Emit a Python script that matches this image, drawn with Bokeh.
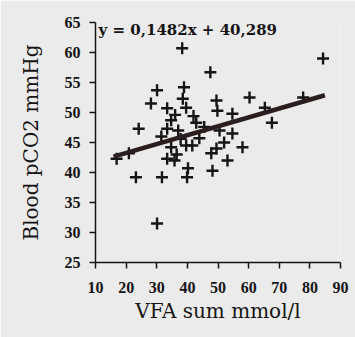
from bokeh.plotting import figure
from bokeh.models import Label, Range1d, FixedTicker, ColumnDataSource
from bokeh.embed import file_html
from bokeh.resources import INLINE

# VFA sum (mmol/l) and blood pCO2 (mmHg) per animal
vfa_sum = [38.3, 84.3, 47.5, 30.1, 38.9, 28.1, 33.4, 39.6, 34.7, 24.1,
           33.4, 34.7, 39.6, 33.4, 40.2, 39.9, 23.2, 31.7, 20.9, 16.9,
           30.1, 49.5, 60.3, 49.8, 54.7, 42.9, 50.5, 54.7, 43.9, 41.6,
           49.5, 58.0, 47.8, 53.1, 48.2, 65.3, 77.8, 67.6, 36.5, 37.0,
           36.0, 31.5, 37.8, 45.5, 35.8, 42.0, 52.0, 38.5]
blood_pco2 = [60.7, 59.0, 56.7, 53.7, 54.2, 51.5, 50.7, 50.8, 48.7, 47.3,
              47.3, 44.2, 44.5, 42.3, 40.7, 39.2, 39.2, 39.2, 43.2, 42.3,
              31.5, 52.0, 52.5, 50.3, 49.8, 48.3, 47.0, 46.5, 45.7, 44.5,
              44.0, 44.2, 43.2, 42.0, 40.3, 50.8, 52.5, 48.3, 43.0, 47.0,
              49.6, 46.0, 45.6, 47.6, 42.0, 49.4, 45.0, 52.3]

# linear fit reported with the data
slope = 0.1482
intercept = 40.289
equation = "y = 0,1482x + 40,289"

x_ticks = [10, 20, 30, 40, 50, 60, 70, 80, 90]
y_ticks = [25, 30, 35, 40, 45, 50, 55, 60, 65]

paper = "#ebebeb"
ink = "#161414"

p = figure(width=355, height=337, output_backend="svg", toolbar_location=None,
           x_range=Range1d(10, 90), y_range=Range1d(25, 65),
           min_border_left=95, min_border_right=15,
           min_border_top=22, min_border_bottom=75)
p.background_fill_color = paper
p.border_fill_color = paper
p.outline_line_color = None
p.grid.visible = False

for ax in (p.xaxis[0], p.yaxis[0]):
    ax.axis_line_color = ink
    ax.axis_line_width = 1.5
    ax.major_tick_line_color = ink
    ax.major_tick_line_width = 1.5
    ax.major_tick_in = 0
    ax.major_tick_out = 6
    ax.minor_tick_line_color = None
    ax.major_label_text_font = "Liberation Serif"
    ax.major_label_text_font_style = "bold"
    ax.major_label_text_font_size = "16px"
    ax.major_label_text_color = ink
    ax.axis_label_text_font = "DejaVu Serif"
    ax.axis_label_text_font_style = "normal"
    ax.axis_label_text_font_size = "20px"
    ax.axis_label_text_color = ink

p.xaxis.ticker = FixedTicker(ticks=x_ticks)
p.yaxis.ticker = FixedTicker(ticks=y_ticks)
p.xaxis.axis_label = "VFA sum mmol/l"
p.yaxis.axis_label = "Blood pCO2 mmHg"
p.xaxis.major_label_standoff = 13
p.yaxis.major_label_standoff = 9
p.xaxis.axis_label_standoff = 3
p.yaxis.axis_label_standoff = 19

src = ColumnDataSource(dict(x=vfa_sum, y=blood_pco2))
p.scatter("x", "y", source=src, marker="cross", size=12,
          line_color=ink, line_width=2.4)

# regression line across the observed VFA range
x0 = min(vfa_sum) - 1.0
x1 = max(vfa_sum) + 0.6
p.line([x0, x1], [slope * x0 + intercept, slope * x1 + intercept],
       line_color="#2a1e1e", line_width=4.5)

p.add_layout(Label(x=11.0, y=63.8, text=equation, text_baseline="middle",
                   text_font="DejaVu Serif", text_font_style="bold",
                   text_font_size="15px", text_color=ink))

open("out.html", "w").write(file_html(p, INLINE))
